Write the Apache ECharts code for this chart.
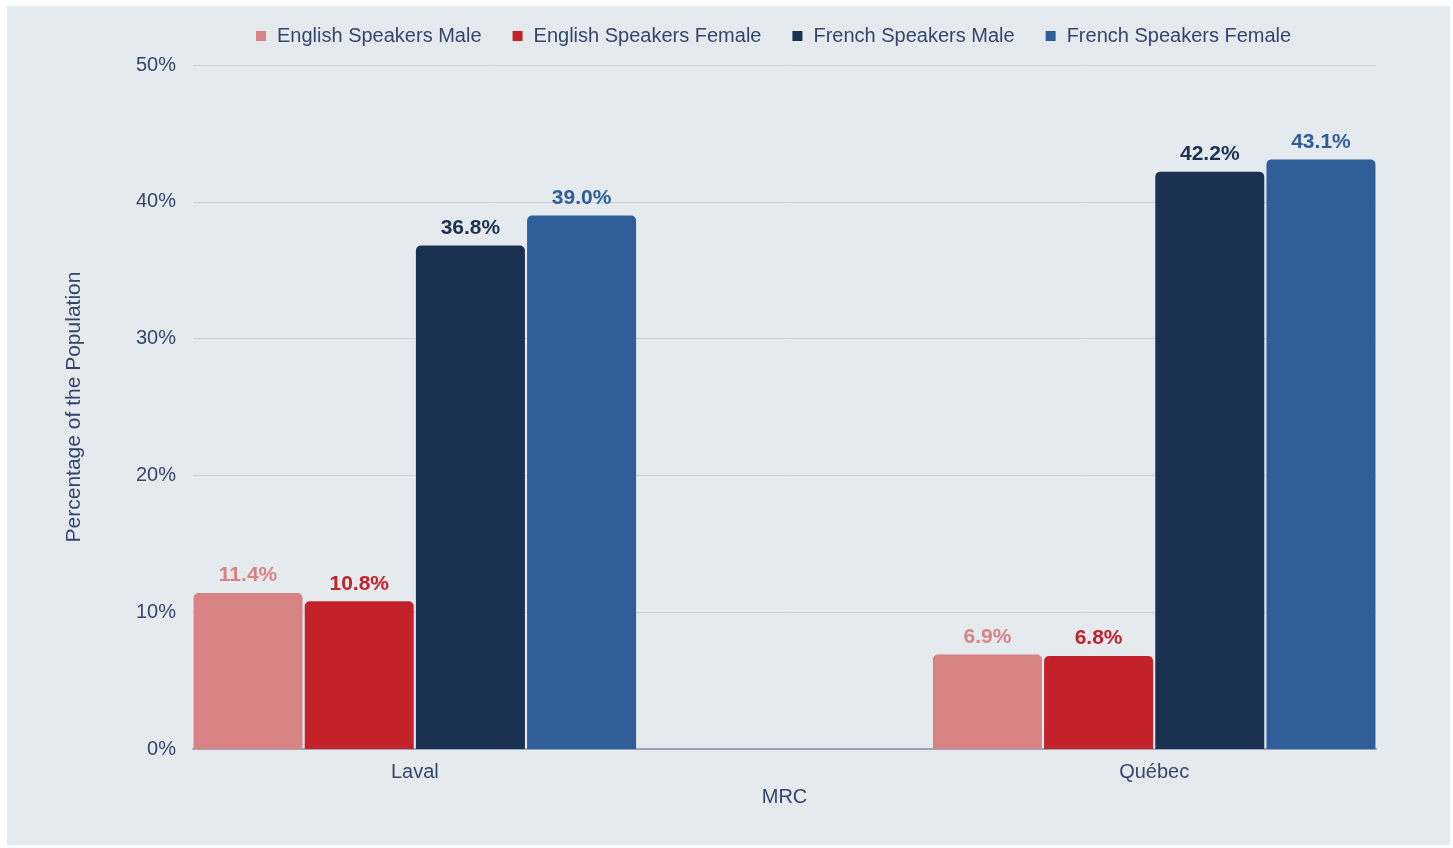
<!DOCTYPE html>
<html>
<head>
<meta charset="utf-8">
<title>English and French Speakers by MRC</title>
<script src="https://cdn.jsdelivr.net/npm/echarts@6/dist/echarts.min.js"></script>
<style>
  html, body { margin: 0; padding: 0; background: #ffffff; }
  #chart { position: absolute; left: 7px; top: 6px; width: 1443px; height: 839px; background: #e5eaef; }
</style>
</head>
<body>
<div id="chart"></div>
<script>
// Regions (MRC) shown along the horizontal axis
const categories = ['Laval', 'Québec'];

// Share of the population, in percent
const englishMale   = [11.4, 6.9];
const englishFemale = [10.8, 6.8];
const frenchMale    = [36.8, 42.2];
const frenchFemale  = [39.0, 43.1];

const seriesNames = ['English Speakers Male', 'English Speakers Female', 'French Speakers Male', 'French Speakers Female'];
const seriesColors = ['#d78384', '#c3222a', '#1b3152', '#2f5e98'];
const yTicks = [0, 10, 20, 30, 40, 50];

const textColor = '#34476b';
const fontFamily = '"Liberation Sans", Arial, Helvetica, sans-serif';

const chart = echarts.init(document.getElementById('chart'));

function makeSeries(name, values, color) {
  return {
    name: name,
    type: 'bar',
    barWidth: 109,
    barGap: '2%',
    data: values.map((v, i) => [i, v]),
    itemStyle: { color: color, borderRadius: [5, 5, 0, 0] },
    label: {
      show: true,
      position: 'top',
      distance: 7,
      color: color,
      fontFamily: fontFamily,
      fontWeight: 'bold',
      fontSize: 21,
      formatter: p => p.value[1].toFixed(1) + '%'
    }
  };
}

chart.setOption({
  backgroundColor: '#e5eaef',
  animation: false,
  textStyle: { fontFamily: fontFamily },
  legend: {
    top: 15,
    left: 244,
    itemWidth: 10,
    itemHeight: 10,
    itemGap: 31,
    icon: 'rect',
    textStyle: { color: textColor, fontSize: 20, fontFamily: fontFamily, padding: [0, 0, 0, 6] },
    data: seriesNames
  },
  grid: { left: 186, right: 74, top: 59, bottom: 96 },
  xAxis: {
    type: 'value',
    min: -0.3,
    max: 1.3,
    name: 'MRC',
    nameLocation: 'middle',
    nameGap: 38,
    nameTextStyle: { color: textColor, fontSize: 20, fontFamily: fontFamily },
    axisLine: { show: true, onZero: false, lineStyle: { color: '#9ba6b8', width: 2 } },
    axisTick: { show: false },
    splitLine: { show: false },
    axisLabel: {
      customValues: [0, 1],
      margin: 13,
      color: textColor,
      fontSize: 20,
      fontFamily: fontFamily,
      formatter: v => categories[Math.round(v)] || ''
    }
  },
  yAxis: {
    type: 'value',
    min: yTicks[0],
    max: yTicks[yTicks.length - 1],
    interval: 10,
    name: 'Percentage of the Population',
    nameLocation: 'middle',
    nameGap: 108,
    nameTextStyle: { color: textColor, fontSize: 21, fontFamily: fontFamily },
    axisLine: { show: false },
    axisTick: { show: false },
    splitLine: { lineStyle: { color: '#c7cfd9', width: 1 } },
    axisLabel: {
      margin: 17,
      color: textColor,
      fontSize: 20,
      fontFamily: fontFamily,
      formatter: v => v + '%'
    }
  },
  series: [
    makeSeries(seriesNames[0], englishMale, seriesColors[0]),
    makeSeries(seriesNames[1], englishFemale, seriesColors[1]),
    makeSeries(seriesNames[2], frenchMale, seriesColors[2]),
    makeSeries(seriesNames[3], frenchFemale, seriesColors[3])
  ]
});
</script>
</body>
</html>
